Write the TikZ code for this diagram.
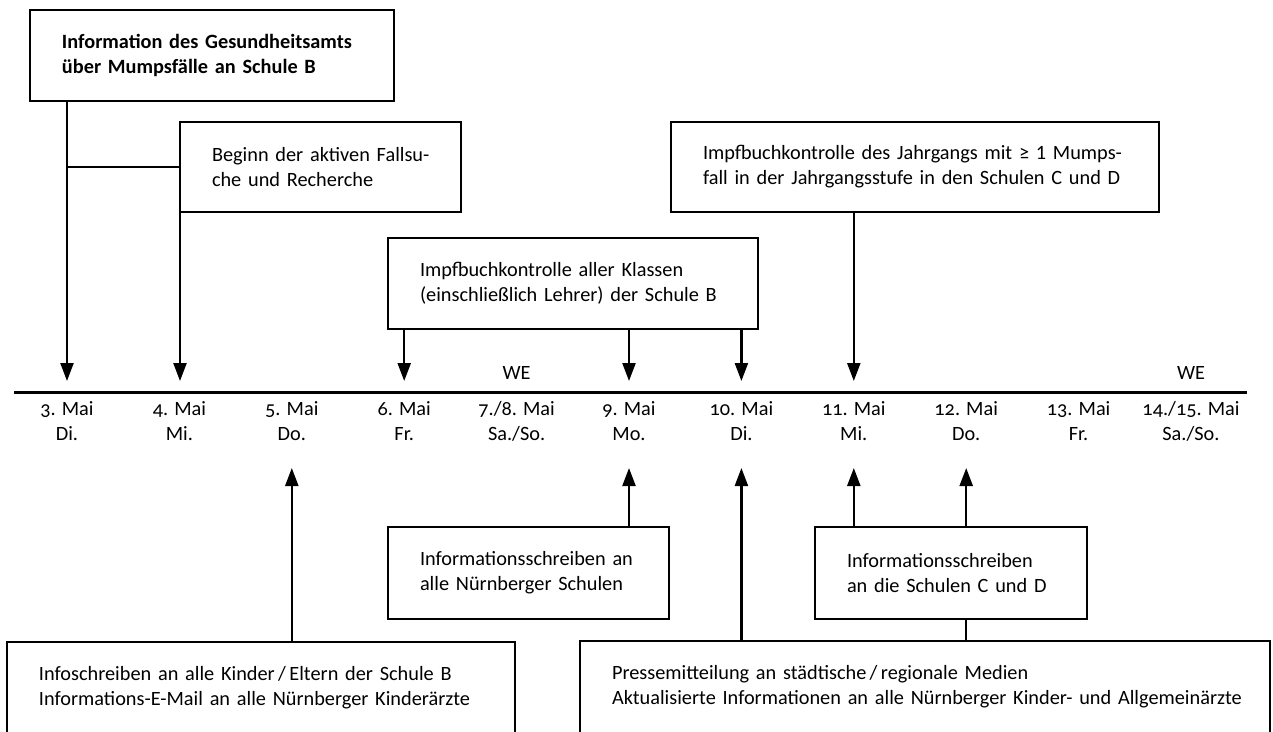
\documentclass[tikz,border=0pt]{standalone}
\usepackage{fontspec}
\setmainfont{Carlito}[Numbers=OldStyle]
\usetikzlibrary{arrows.meta}

\begin{document}
\begin{tikzpicture}[x=1pt, y=-1pt, node distance=112.4pt,
  font=\fontsize{20.3}{25}\selectfont,
  box/.style={draw, line width=1.7pt, anchor=north west, align=left,
    inner sep=0pt, outer sep=0pt, execute at begin node={\leftskip=32pt}},
  date/.style={align=center, inner sep=0pt,
    execute at begin node=\strut, execute at end node=\strut},
  arr/.style={line width=2.3pt, -{Triangle[length=18pt,width=13pt]}},
  link/.style={line width=2.3pt},
  tline/.style={line width=3pt}]
\useasboundingbox (0,0) rectangle (1273,731);
\clip (0,0) rectangle (1273,731);

% boxes above the time line
\node [box, font=\fontsize{20.3}{25}\selectfont\bfseries, text width=364pt, minimum height=91pt] (info) at (30,10)
  {Information des Gesundheitsamts\\über Mumpsfälle an Schule B};
\node [box, text width=281pt, minimum height=90pt] (fall) at (180,122)
  {Beginn der aktiven Fallsu-\\che und Recherche};
\node [box, text width=370pt, minimum height=91pt] (klassen) at (388,238)
  {Impfbuchkontrolle aller Klassen\\(einschließlich Lehrer) der Schule B};
\node [box, text width=488pt, minimum height=90pt] (jahrgang) at (671,122)
  {Impfbuchkontrolle des Jahrgangs mit ≥ {\addfontfeature{Numbers=Lining}1} Mumps-\\fall in der Jahrgangsstufe in den Schulen C und D};

% boxes below the time line
\node [box, text width=281pt, minimum height=92pt] (schulen) at (388,527)
  {Informationsschreiben an\\alle Nürnberger Schulen};
\node [box, text width=272pt, minimum height=92pt] (cd) at (815,527)
  {Informationsschreiben\\an die Schulen C und D};
\node [box, text width=508pt, minimum height=92pt] (kinder) at (7,642)
  {Infoschreiben an alle Kinder\,/\,Eltern der Schule B\\Informations-E-Mail an alle Nürnberger Kinderärzte};
\node [box, text width=690pt, minimum height=92pt] (presse) at (580,641)
  {Pressemitteilung an städtische\,/\,regionale Medien\\Aktualisierte Informationen an alle Nürnberger Kinder- und Allgemeinärzte};

% days
\node [date] (d3) at (67,424.5) {3. Mai\\Di.};
\node [date, right of=d3] (d4) {4. Mai\\Mi.};
\node [date, right of=d4] (d5) {5. Mai\\Do.};
\node [date, right of=d5] (d6) {6. Mai\\Fr.};
\node [date, right of=d6] (d78) {7./8. Mai\\Sa./So.};
\node [date, right of=d78] (d9) {9. Mai\\Mo.};
\node [date, right of=d9] (d10) {10. Mai\\Di.};
\node [date, right of=d10] (d11) {11. Mai\\Mi.};
\node [date, right of=d11] (d12) {12. Mai\\Do.};
\node [date, right of=d12] (d13) {13. Mai\\Fr.};
\node [date, right of=d13] (d1415) {14./15. Mai\\Sa./So.};
\node [anchor=base] (we78) at (d78 |- 0,379) {WE};
\node [anchor=base] (we1415) at (d1415 |- 0,379) {WE};

% time line
\coordinate (tl0) at (14,392);
\coordinate (tl1) at (1247,392);
\coordinate (dn) at (0,381);
\coordinate (up) at (0,468);
\draw [tline] (tl0) -- (tl1);

\draw [arr] (info.south -| d3) -- (dn -| d3);
\draw [link] (fall.west) -- (fall.west -| d3);
\draw [arr] (fall.south west) -- (dn -| fall.south west);
\draw [arr] (klassen.south -| d6) -- (dn -| d6);
\draw [arr] (klassen.south -| d9) -- (dn -| d9);
\draw [arr] (klassen.south -| d10) -- (dn -| d10);
\draw [arr] (jahrgang.south -| d11) -- (dn -| d11);
\draw [arr] (schulen.north -| d9) -- (up -| d9);
\draw [arr] (cd.north -| d11) -- (up -| d11);
\draw [arr] (cd.north -| d12) -- (up -| d12);
\draw [link] (cd.south -| d12) -- (presse.north -| d12);
\draw [arr] (kinder.north -| d5) -- (up -| d5);
\draw [arr] (presse.north -| d10) -- (up -| d10);
\end{tikzpicture}
\end{document}
